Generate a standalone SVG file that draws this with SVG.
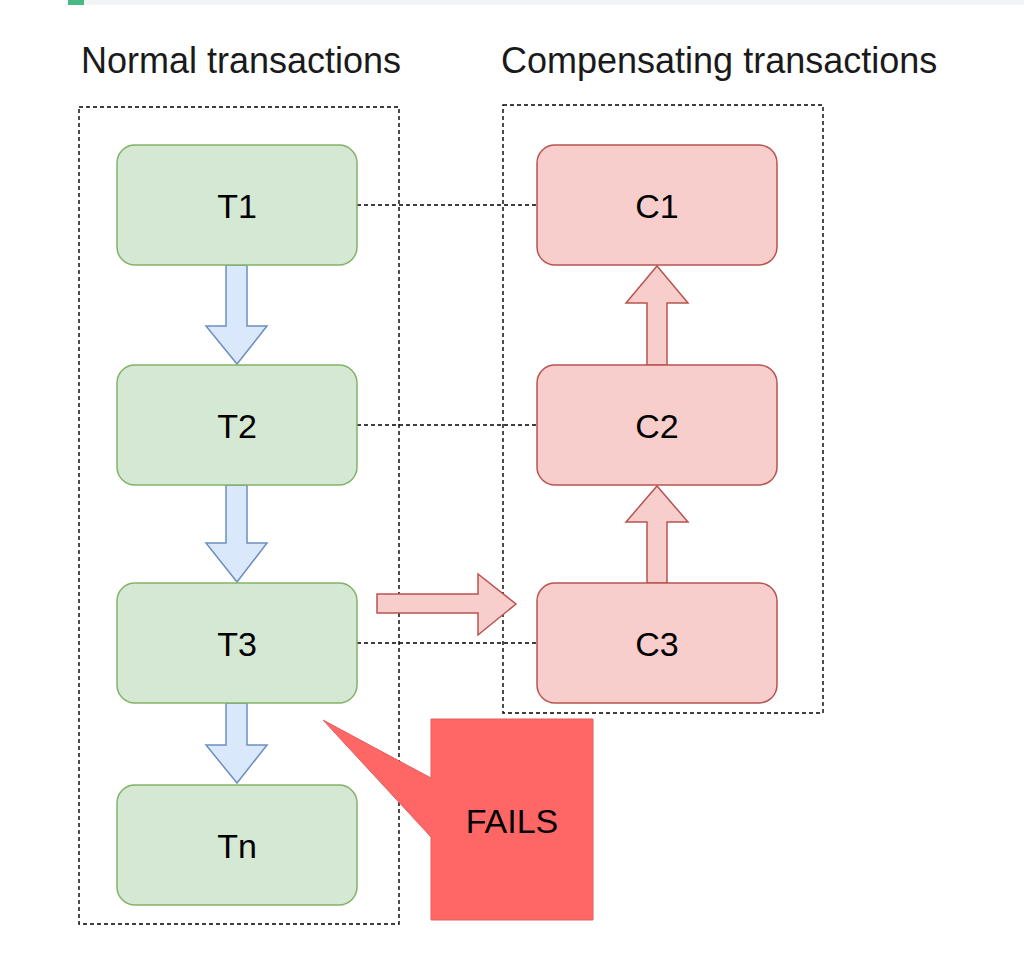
<svg xmlns="http://www.w3.org/2000/svg" width="1024" height="966" viewBox="0 0 1024 966">
<style>
.t{font-family:"Liberation Sans",Arial,sans-serif;font-size:34px;fill:#000;text-anchor:middle}
.title{font-family:"Liberation Sans",Arial,sans-serif;font-size:36px;fill:#1a1a1a}
.cont{fill:none;stroke:#000;stroke-width:1.4;stroke-dasharray:4 3}
.g{fill:#d5e8d4;stroke:#82b366;stroke-width:1.5}
.r{fill:#f8cecc;stroke:#b85450;stroke-width:1.5}
.ba{fill:#dae8fc;stroke:#6c8ebf;stroke-width:1.5}
.ra{fill:#f8cecc;stroke:#b85450;stroke-width:1.5}
.dl{fill:none;stroke:#000;stroke-width:1.4;stroke-dasharray:4 3}
</style>
<rect width="1024" height="966" fill="#fff"/>
<rect x="84" y="0" width="940" height="5" fill="#f2f3f5"/>
<rect x="68" y="0" width="16" height="5" fill="#48b884"/>
<g id="titles">
<text class="title" x="81" y="73">Normal transactions</text>
<text class="title" x="501" y="73">Compensating transactions</text>
</g>
<g id="containers">
<rect class="cont" x="79" y="107" width="320" height="817"/>
<rect class="cont" x="503" y="105" width="320" height="608"/>
</g>
<g id="connectors">
<line class="dl" x1="357" y1="205" x2="537" y2="205"/>
<line class="dl" x1="357" y1="425" x2="537" y2="425"/>
<line class="dl" x1="357" y1="643" x2="537" y2="643"/>
<path class="ba" d="M226 265 H247 V326 H267 L237 364 L206 326 H226 Z"/>
<path class="ba" d="M226 485 H247 V543 H267 L237 582 L206 543 H226 Z"/>
<path class="ba" d="M226 703 H247 V745 H267 L237 783 L206 745 H226 Z"/>
<path class="ra" d="M647 365 H667 V303 H688 L657 266 L626 303 H647 Z"/>
<path class="ra" d="M647 583 H667 V522 H688 L657 486 L626 522 H647 Z"/>
<path class="ra" d="M377 594 H478 V574 L516 604 L478 635 V613 H377 Z"/>
</g>
<g id="T1"><rect class="g" x="117" y="145" width="240" height="120" rx="18"/><text class="t" x="237" y="218">T1</text></g>
<g id="T2"><rect class="g" x="117" y="365" width="240" height="120" rx="18"/><text class="t" x="237" y="438">T2</text></g>
<g id="T3"><rect class="g" x="117" y="583" width="240" height="120" rx="18"/><text class="t" x="237" y="656">T3</text></g>
<g id="Tn"><rect class="g" x="117" y="785" width="240" height="120" rx="18"/><text class="t" x="237" y="858">Tn</text></g>
<g id="C1"><rect class="r" x="537" y="145" width="240" height="120" rx="18"/><text class="t" x="657" y="218">C1</text></g>
<g id="C2"><rect class="r" x="537" y="365" width="240" height="120" rx="18"/><text class="t" x="657" y="438">C2</text></g>
<g id="C3"><rect class="r" x="537" y="583" width="240" height="120" rx="18"/><text class="t" x="657" y="656">C3</text></g>
<g id="FAILS">
<path d="M431 719 H593 V920 H431 V837 L323 720 L431 778 Z" fill="#ff6666" stroke="#e06060" stroke-width="1"/>
<text class="t" x="512" y="833">FAILS</text>
</g>
</svg>
